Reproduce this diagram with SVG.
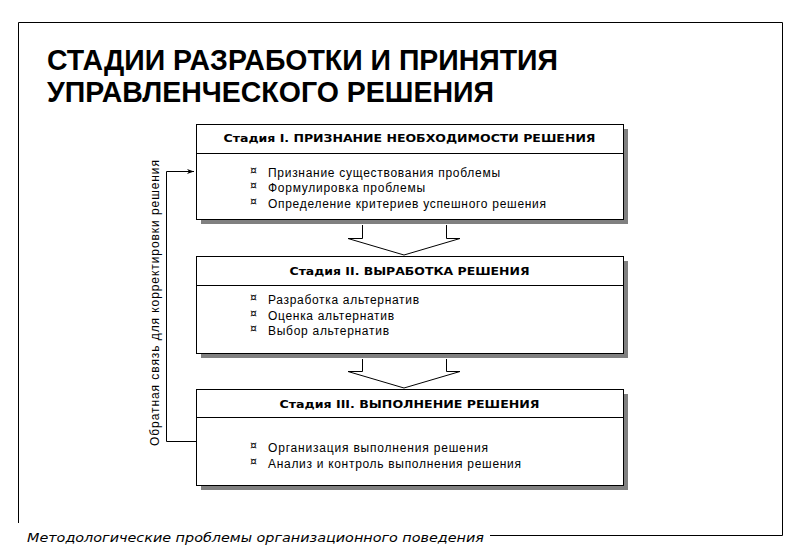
<svg xmlns="http://www.w3.org/2000/svg" width="800" height="553" viewBox="0 0 800 553">
<style>
.title{font-family:"Liberation Sans Narrow","Liberation Sans",Arial,sans-serif;font-weight:bold;font-size:29px;fill:#000}
.hdr{font-family:"DejaVu Sans","Liberation Sans",sans-serif;font-weight:bold;font-size:11px;fill:#000}
.item{font-family:"Liberation Sans",Arial,sans-serif;font-size:12px;fill:#000}
.bul{font-family:"DejaVu Sans",sans-serif;font-size:11px;fill:#000}
.box{fill:#fff;stroke:#000;stroke-width:1}
.shadow{fill:#808080}
.ln{fill:none;stroke:#000;stroke-width:1}
.side{font-family:"Liberation Sans",Arial,sans-serif;font-size:12px;fill:#000}
.foot{font-family:"DejaVu Sans Condensed","DejaVu Sans",sans-serif;font-style:italic;font-size:13px;fill:#000}
</style>
<defs>
<marker id="ah" markerWidth="8" markerHeight="6" refX="7" refY="3" orient="auto" markerUnits="userSpaceOnUse">
<path d="M0,0.5 L7,3 L0,5.5 L2,3 Z" fill="#000"/>
</marker>
</defs>
<rect width="800" height="553" fill="#fff"/>
<g id="frame">
<path class="ln" d="M18.5,523 V22.5 H782.5 V535.5 H490"/>
</g>
<g id="title">
<text class="title" x="47" y="70" textLength="511" lengthAdjust="spacingAndGlyphs">СТАДИИ РАЗРАБОТКИ И ПРИНЯТИЯ</text>
<text class="title" x="47" y="102" textLength="447" lengthAdjust="spacingAndGlyphs">УПРАВЛЕНЧЕСКОГО РЕШЕНИЯ</text>
</g>
<g id="stage1">
<rect class="shadow" x="201" y="129" width="427" height="95"/>
<rect class="box" x="196.5" y="124.5" width="427" height="95"/>
<line class="ln" x1="196.5" y1="153.5" x2="623.5" y2="153.5"/>
<text class="hdr" x="409.5" y="142" text-anchor="middle" textLength="372" lengthAdjust="spacingAndGlyphs">Стадия I. ПРИЗНАНИЕ НЕОБХОДИМОСТИ РЕШЕНИЯ</text>
<text class="bul" x="250" y="174">¤</text><text class="item" x="268" y="177" textLength="232" lengthAdjust="spacing">Признание существования проблемы</text>
<text class="bul" x="250" y="189">¤</text><text class="item" x="268" y="192" textLength="157" lengthAdjust="spacing">Формулировка проблемы</text>
<text class="bul" x="250" y="205">¤</text><text class="item" x="268" y="208" textLength="278" lengthAdjust="spacing">Определение критериев успешного решения</text>
</g>
<g id="stage2">
<rect class="shadow" x="201" y="261" width="427" height="97"/>
<rect class="box" x="196.5" y="256.5" width="427" height="97"/>
<line class="ln" x1="196.5" y1="285.5" x2="623.5" y2="285.5"/>
<text class="hdr" x="409.5" y="275" text-anchor="middle" textLength="240" lengthAdjust="spacingAndGlyphs">Стадия II. ВЫРАБОТКА РЕШЕНИЯ</text>
<text class="bul" x="250" y="301">¤</text><text class="item" x="268" y="304" textLength="151" lengthAdjust="spacing">Разработка альтернатив</text>
<text class="bul" x="250" y="317">¤</text><text class="item" x="268" y="320" textLength="126" lengthAdjust="spacing">Оценка альтернатив</text>
<text class="bul" x="250" y="332">¤</text><text class="item" x="268" y="335" textLength="121" lengthAdjust="spacing">Выбор альтернатив</text>
</g>
<g id="stage3">
<rect class="shadow" x="201" y="394" width="427" height="96"/>
<rect class="box" x="196.5" y="389.5" width="427" height="96"/>
<line class="ln" x1="196.5" y1="417.5" x2="623.5" y2="417.5"/>
<text class="hdr" x="409.5" y="408" text-anchor="middle" textLength="260" lengthAdjust="spacingAndGlyphs">Стадия III. ВЫПОЛНЕНИЕ РЕШЕНИЯ</text>
<text class="bul" x="250" y="449">¤</text><text class="item" x="268" y="452" textLength="220" lengthAdjust="spacing">Организация выполнения решения</text>
<text class="bul" x="250" y="465">¤</text><text class="item" x="268" y="468" textLength="253" lengthAdjust="spacing">Анализ и контроль выполнения решения</text>
</g>
<g id="connectors">
<path class="box" d="M362.5,225 V238.5 H348 L404,255 L460,238.5 H446.5 V225"/>
<path class="box" d="M362.5,359 V371.5 H348 L404,388 L460,371.5 H446.5 V359"/>
<path class="ln" d="M196,441.5 H166.5 V171.5 H194" marker-end="url(#ah)"/>
</g>
<g id="feedback-label">
<text class="side" transform="translate(159,303) rotate(-90)" text-anchor="middle" textLength="286" lengthAdjust="spacing">Обратная связь для корректировки решения</text>
</g>
<g id="footer">
<text class="foot" x="27" y="542" textLength="457" lengthAdjust="spacingAndGlyphs">Методологические проблемы организационного поведения</text>
</g>
</svg>
